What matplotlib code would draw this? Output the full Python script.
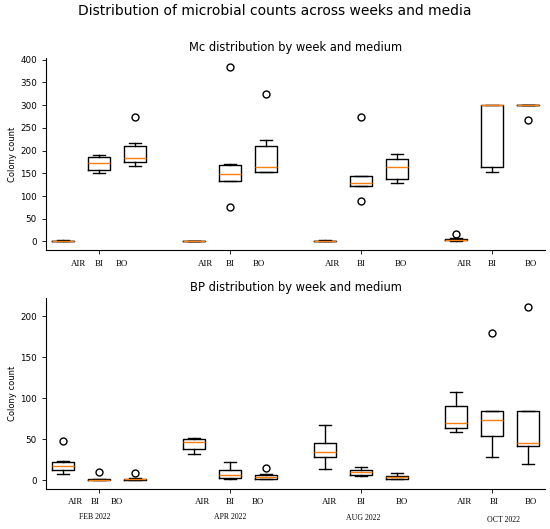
import matplotlib
matplotlib.use("Agg")
import matplotlib.pyplot as plt
from matplotlib.ticker import MultipleLocator

# Categories
weeks = ["FEB 2022", "APR 2022", "AUG 2022", "OCT 2022"]
media = ["AIR", "BI", "BO"]

# Mc box statistics, week-major order (AIR, BI, BO per week)
mc_whislo = [0, 151, 167,   0, 134, 152,   0, 122, 128,   2, 152, 300]
mc_q1     = [0, 158, 175,   0, 134, 152,   1, 122, 137,   3, 163, 300]
mc_med    = [1, 173, 184,   1, 148, 164,   2, 128, 164,   4, 300, 300]
mc_q3     = [2, 185, 211,   1, 168, 211,   2, 143, 181,   6, 300, 300]
mc_whishi = [3, 191, 217,   2, 171, 223,   3, 143, 193,   8, 300, 300]
mc_fliers = [[], [], [273],  [], [384, 75], [324],  [], [273, 88], [],  [17], [], [267]]

# BP box statistics
bp_whislo = [8, 0, 0,    32, 1, 1,     14, 5, 1,      59, 28, 20]
bp_q1     = [12, 0, 0,   38, 3, 2,     28, 6.5, 1.6,  64, 54, 42]
bp_med    = [17, 0, 1,   47, 7, 4,     34, 10, 4,     70.5, 73, 45]
bp_q3     = [22, 1, 2,   50, 13, 6.5,  46, 12, 5.7,   91, 84, 84]
bp_whishi = [23, 1, 3,   52, 22, 7.5,  68, 16, 9.5,   108, 84, 84]
bp_fliers = [[48], [10], [9],  [], [], [15],  [], [], [],  [], [180], [212]]

# layout (not data)
box_offsets = [-0.275, 0.0, 0.275]
label_offsets_top = [[-0.16, 0.0, 0.176], [-0.19, 0.0, 0.22],
                     [-0.22, 0.0, 0.306], [-0.21, 0.0, 0.30]]
label_offsets_bot = [[-0.18, -0.03, 0.14], [-0.21, 0.0, 0.21],
                     [-0.24, 0.0, 0.31], [-0.21, 0.015, 0.30]]
week_offsets = [-0.03, 0.0, 0.015, 0.09]
week_y = [-0.147, -0.147, -0.152, -0.162]


def make_stats(lo, q1, med, q3, hi, fl):
    stats = []
    for i in range(len(med)):
        stats.append(dict(whislo=lo[i], q1=q1[i], med=med[i], q3=q3[i],
                          whishi=hi[i], fliers=fl[i]))
    return stats


def draw(ax, stats, title, lab_offsets):
    pos = []
    for w in range(len(weeks)):
        for m in range(len(media)):
            pos.append(w + 1 + box_offsets[m])
    ax.bxp(stats, positions=pos, widths=0.17, manage_ticks=False,
           flierprops=dict(marker="o", markersize=5, markerfacecolor="none",
                           markeredgecolor="black", markeredgewidth=1.0),
           boxprops=dict(color="black", linewidth=1.0),
           whiskerprops=dict(color="black", linewidth=1.0),
           capprops=dict(color="black", linewidth=1.0),
           medianprops=dict(color="#ff7f0e", linewidth=1.0))
    ax.set_xlim(0.595, 4.405)
    ax.set_xticks(range(1, len(weeks) + 1))
    ax.set_xticklabels([""] * len(weeks))
    ax.yaxis.set_major_locator(MultipleLocator(50))
    ax.tick_params(axis="y", labelsize=6.3, length=3, width=0.6)
    ax.tick_params(axis="x", length=3, width=0.6)
    ax.spines["top"].set_visible(False)
    ax.spines["right"].set_visible(False)
    ax.spines["left"].set_linewidth(0.8)
    ax.spines["bottom"].set_linewidth(0.8)
    ax.set_ylabel("Colony count", fontsize=6, labelpad=2)
    ax.set_title(title, fontsize=8.3, pad=5)
    tr = ax.get_xaxis_transform()
    for w in range(len(weeks)):
        for m, name in enumerate(media):
            ax.text(w + 1 + lab_offsets[w][m], -0.07, name, transform=tr,
                    ha="center", va="center", fontsize=6.4,
                    family="Liberation Serif")


fig = plt.figure(figsize=(5.5, 5.29), dpi=100)
ax1 = fig.add_axes([0.0836, 0.527, 0.9074, 0.363])
ax2 = fig.add_axes([0.0836, 0.0756, 0.9074, 0.3614])

draw(ax1, make_stats(mc_whislo, mc_q1, mc_med, mc_q3, mc_whishi, mc_fliers),
     "Mc distribution by week and medium", label_offsets_top)
draw(ax2, make_stats(bp_whislo, bp_q1, bp_med, bp_q3, bp_whishi, bp_fliers),
     "BP distribution by week and medium", label_offsets_bot)

tr2 = ax2.get_xaxis_transform()
for w, name in enumerate(weeks):
    ax2.text(w + 1 + week_offsets[w], week_y[w], name, transform=tr2,
             ha="center", va="center", fontsize=5.6, family="Liberation Serif")

fig.text(0.5, 0.979, "Distribution of microbial counts across weeks and media",
         ha="center", va="center", fontsize=10)

fig.savefig("out.png", dpi=100)
